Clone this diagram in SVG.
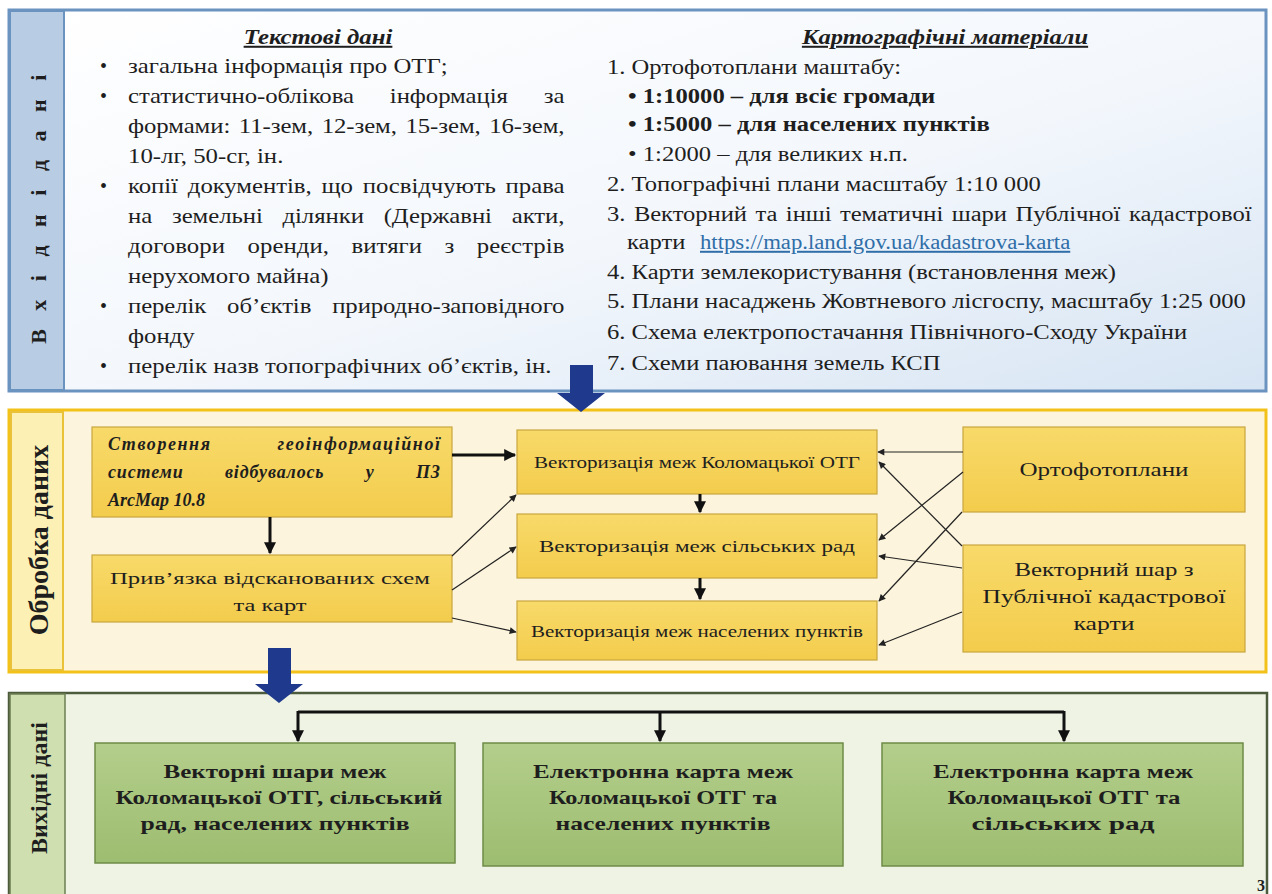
<svg xmlns="http://www.w3.org/2000/svg" width="1272" height="894" viewBox="0 0 1272 894">
<defs>
<linearGradient id="gBlue" x1="0" y1="0" x2="1" y2="1">
<stop offset="0" stop-color="#FFFFFF"/>
<stop offset="0.55" stop-color="#F3F7FC"/>
<stop offset="1" stop-color="#D6E4F3"/>
</linearGradient>
<linearGradient id="gYBox" x1="0" y1="0" x2="0" y2="1">
<stop offset="0" stop-color="#F8DA6A"/>
<stop offset="1" stop-color="#F3CC4C"/>
</linearGradient>
<linearGradient id="gGBox" x1="0" y1="0" x2="0" y2="1">
<stop offset="0" stop-color="#B3CE8B"/>
<stop offset="1" stop-color="#9DBD70"/>
</linearGradient>
<marker id="ah" viewBox="0 0 10 10" refX="9" refY="5" markerUnits="userSpaceOnUse" markerWidth="13" markerHeight="12" orient="auto">
<path d="M0,0 L10,5 L0,10 z" fill="#111"/>
</marker>
<marker id="ahs" viewBox="0 0 10 10" refX="9" refY="5" markerUnits="userSpaceOnUse" markerWidth="8" markerHeight="7" orient="auto">
<path d="M0,0 L10,5 L0,10 z" fill="#222"/>
</marker>
<style>
.panel-top{fill:url(#gBlue);stroke:#6A93C0;stroke-width:3}
.strip-top{fill:#B8CCE4;stroke:#6A93C0;stroke-width:2}
.panel-mid{fill:#FCF4DC;stroke:#F2C21A;stroke-width:3}
.strip-mid{fill:#FDF0B5;stroke:#E9C23A;stroke-width:2}
.box-y{fill:url(#gYBox);stroke:#C9A640;stroke-width:1.2}
.panel-bot{fill:#EEF3E4;stroke:#4C5B3C;stroke-width:2.5}
.strip-bot{fill:#CFDFB0;stroke:#6C7F52;stroke-width:1.5}
.box-g{fill:url(#gGBox);stroke:#6F8C47;stroke-width:1.5}
.t{font-family:"Liberation Serif","DejaVu Serif",serif;fill:#1E1E1E}
.f20{font-size:20px}
.f19{font-size:19px}
.f18{font-size:18px}
.f17{font-size:17px}
.b{font-weight:bold}
.i{font-style:italic}
.u{text-decoration:underline}
.m{text-anchor:middle}
.link{fill:#2F6EA8;text-decoration:underline}
.thick{stroke:#111;stroke-width:3;fill:none}
.thin{stroke:#222;stroke-width:1.2;fill:none}
.big{fill:#1F3A8C}
</style>
</defs>

<g id="input-panel">
<rect class="panel-top" x="9" y="10" width="1257" height="381"/>
<rect class="strip-top" x="10" y="11" width="54" height="379"/>
<text class="t b" font-size="22" text-anchor="middle" letter-spacing="6.5" transform="translate(46,206) rotate(-90)">В х і д н і   д а н і</text>

<text class="t f20 b i u m" transform="matrix(1.24 0 0 1 318 44)">Текстові дані</text>
<g class="t f20">
<text x="100" y="73">•</text>
<text x="100" y="103">•</text>
<text x="100" y="193">•</text>
<text x="100" y="313">•</text>
<text x="100" y="373">•</text>
</g>
<g class="t f20">
<text transform="matrix(1.24 0 0 1 128 73)">загальна інформація про ОТГ;</text>
<text transform="matrix(1.24 0 0 1 128 103)" word-spacing="24" textLength="352" lengthAdjust="spacing">статистично-облікова інформація за</text>
<text transform="matrix(1.24 0 0 1 128 133)" word-spacing="2" textLength="352" lengthAdjust="spacing">формами: 11-зем, 12-зем, 15-зем, 16-зем,</text>
<text transform="matrix(1.24 0 0 1 128 163)">10-лг, 50-сг, ін.</text>
<text transform="matrix(1.24 0 0 1 128 193)" word-spacing="3" textLength="352" lengthAdjust="spacing">копії документів, що посвідчують права</text>
<text transform="matrix(1.24 0 0 1 128 223)" word-spacing="11" textLength="352" lengthAdjust="spacing">на земельні ділянки (Державні акти,</text>
<text transform="matrix(1.24 0 0 1 128 253)" word-spacing="13" textLength="352" lengthAdjust="spacing">договори оренди, витяги з реєстрів</text>
<text transform="matrix(1.24 0 0 1 128 283)">нерухомого майна)</text>
<text transform="matrix(1.24 0 0 1 128 313)" word-spacing="12" textLength="352" lengthAdjust="spacing">перелік об’єктів природно-заповідного</text>
<text transform="matrix(1.24 0 0 1 128 343)">фонду</text>
<text transform="matrix(1.24 0 0 1 128 373)">перелік назв топографічних об’єктів, ін.</text>
</g>

<text class="t f20 b i u m" transform="matrix(1.23 0 0 1 945 44)">Картографічні матеріали</text>
<g class="t f20">
<text transform="matrix(1.23 0 0 1 607 74)">1. Ортофотоплани маштабу:</text>
<text class="b" transform="matrix(1.23 0 0 1 628 103)">• 1:10000 – для всіє громади</text>
<text class="b" transform="matrix(1.23 0 0 1 628 131)">• 1:5000 – для населених пунктів</text>
<text transform="matrix(1.23 0 0 1 628 161)">• 1:2000 – для великих н.п.</text>
<text transform="matrix(1.23 0 0 1 607 191)">2. Топографічні плани масштабу 1:10 000</text>
<text transform="matrix(1.23 0 0 1 607 221)" word-spacing="2" textLength="524" lengthAdjust="spacing">3. Векторний та інші тематичні шари Публічної кадастрової</text>
<text transform="matrix(1.23 0 0 1 627 249)">карти</text>
<text class="link" transform="matrix(1.23 0 0 1 700 249)" textLength="301" lengthAdjust="spacingAndGlyphs">https://map.land.gov.ua/kadastrova-karta</text>
<text transform="matrix(1.23 0 0 1 607 279)">4. Карти землекористування (встановлення меж)</text>
<text transform="matrix(1.23 0 0 1 607 308)">5. Плани насаджень Жовтневого лісгоспу, масштабу 1:25 000</text>
<text transform="matrix(1.23 0 0 1 607 339)">6. Схема електропостачання Північного-Сходу України</text>
<text transform="matrix(1.23 0 0 1 607 370)">7. Схеми паювання земель КСП</text>
</g>
</g>

<g id="processing-panel">
<rect class="panel-mid" x="9" y="410" width="1257" height="262"/>
<rect class="strip-mid" x="11" y="412" width="52" height="258"/>
<text class="t b" font-size="28" text-anchor="middle" transform="translate(48,540) rotate(-90)">Обробка даних</text>
</g>

<g id="node-gis">
<rect class="box-y" x="92" y="427" width="360" height="90"/>
<g class="t f18 b i">
<text x="108" y="450" word-spacing="60" textLength="332" lengthAdjust="spacing">Створення геоінформаційної</text>
<text x="108" y="478" word-spacing="36" textLength="332" lengthAdjust="spacing">системи відбувалось у ПЗ</text>
<text x="108" y="506">ArcMap 10.8</text>
</g>
</g>

<g id="node-georef">
<rect class="box-y" x="92" y="555" width="360" height="67"/>
<text class="t f17 m" x="270" y="584" textLength="320" lengthAdjust="spacingAndGlyphs">Прив’язка відсканованих схем</text>
<text class="t f17 m" x="270" y="611" textLength="73" lengthAdjust="spacingAndGlyphs">та карт</text>
</g>

<g id="node-vec-otg">
<rect class="box-y" x="517" y="430" width="360" height="64"/>
<text class="t f17 m" x="697" y="468" textLength="326" lengthAdjust="spacingAndGlyphs">Векторизація  меж Коломацької ОТГ</text>
</g>

<g id="node-vec-rad">
<rect class="box-y" x="517" y="514" width="360" height="64"/>
<text class="t f17 m" x="697" y="552" textLength="316" lengthAdjust="spacingAndGlyphs">Векторизація  меж сільських рад</text>
</g>

<g id="node-vec-np">
<rect class="box-y" x="517" y="601" width="360" height="59"/>
<text class="t f17 m" x="697" y="637" textLength="332" lengthAdjust="spacingAndGlyphs">Векторизація  меж населених пунктів</text>
</g>

<g id="node-ortho">
<rect class="box-y" x="963" y="427" width="282" height="85"/>
<text class="t f19 m" x="1104" y="476" textLength="169" lengthAdjust="spacingAndGlyphs">Ортофотоплани</text>
</g>

<g id="node-cadastre">
<rect class="box-y" x="963" y="545" width="282" height="107"/>
<text class="t f19 m" x="1104" y="576" textLength="179" lengthAdjust="spacingAndGlyphs">Векторний шар з</text>
<text class="t f19 m" x="1104" y="603" textLength="243" lengthAdjust="spacingAndGlyphs">Публічної кадастрової</text>
<text class="t f19 m" x="1104" y="630" textLength="61" lengthAdjust="spacingAndGlyphs">карти</text>
</g>

<g id="output-panel">
<rect class="panel-bot" x="9" y="693" width="1258" height="215"/>
<rect class="strip-bot" x="10" y="694" width="55" height="210"/>
<text class="t b" font-size="24" text-anchor="middle" transform="translate(47,788) rotate(-90)">Вихідні дані</text>
</g>

<g id="node-out-layers">
<rect class="box-g" x="95" y="743" width="360" height="120"/>
<g class="t b m" font-size="19">
<text x="275" y="778" textLength="223" lengthAdjust="spacingAndGlyphs">Векторні шари меж</text>
<text x="279" y="804" textLength="327" lengthAdjust="spacingAndGlyphs">Коломацької ОТГ, сільський</text>
<text x="275" y="830" textLength="269" lengthAdjust="spacingAndGlyphs">рад, населених пунктів</text>
</g>
</g>

<g id="node-out-map-np">
<rect class="box-g" x="483" y="743" width="360" height="123"/>
<g class="t b m" font-size="19">
<text x="663" y="778" textLength="260" lengthAdjust="spacingAndGlyphs">Електронна карта меж</text>
<text x="663" y="804" textLength="228" lengthAdjust="spacingAndGlyphs">Коломацької ОТГ та</text>
<text x="663" y="830" textLength="215" lengthAdjust="spacingAndGlyphs">населених пунктів</text>
</g>
</g>

<g id="node-out-map-rad">
<rect class="box-g" x="882" y="743" width="361" height="123"/>
<g class="t b m" font-size="19">
<text x="1063" y="778" textLength="260" lengthAdjust="spacingAndGlyphs">Електронна карта меж</text>
<text x="1064" y="804" textLength="233" lengthAdjust="spacingAndGlyphs">Коломацької ОТГ та</text>
<text x="1063" y="830" textLength="183" lengthAdjust="spacingAndGlyphs">сільських рад</text>
</g>
</g>

<g id="connectors">
<polygon class="big" points="570,365 593,365 593,393 605,393 581,412 557,393 570,393"/>
<polygon class="big" points="268,648 291,648 291,684 303,684 279,703 255,684 268,684"/>
<path class="thick" d="M452,455 H515" marker-end="url(#ah)"/>
<path class="thick" d="M270,517 V553" marker-end="url(#ah)"/>
<path class="thick" d="M700,494 V512" marker-end="url(#ah)"/>
<path class="thick" d="M700,578 V599" marker-end="url(#ah)"/>
<path class="thin" d="M452,556 L516,495" marker-end="url(#ahs)"/>
<path class="thin" d="M452,590 L516,547" marker-end="url(#ahs)"/>
<path class="thin" d="M452,618 L516,632" marker-end="url(#ahs)"/>
<path class="thin" d="M963,452 L878,452" marker-end="url(#ahs)"/>
<path class="thin" d="M963,472 L879,540" marker-end="url(#ahs)"/>
<path class="thin" d="M962,512 L879,601" marker-end="url(#ahs)"/>
<path class="thin" d="M962,546 L879,462" marker-end="url(#ahs)"/>
<path class="thin" d="M962,568 L879,556" marker-end="url(#ahs)"/>
<path class="thin" d="M962,612 L879,645" marker-end="url(#ahs)"/>
<path class="thick" d="M298,712 H1064"/>
<path class="thick" d="M298,711 V741" marker-end="url(#ah)"/>
<path class="thick" d="M660,712 V741" marker-end="url(#ah)"/>
<path class="thick" d="M1064,711 V741" marker-end="url(#ah)"/>
</g>

<text class="t b" font-size="16" x="1257" y="891">3</text>
</svg>
